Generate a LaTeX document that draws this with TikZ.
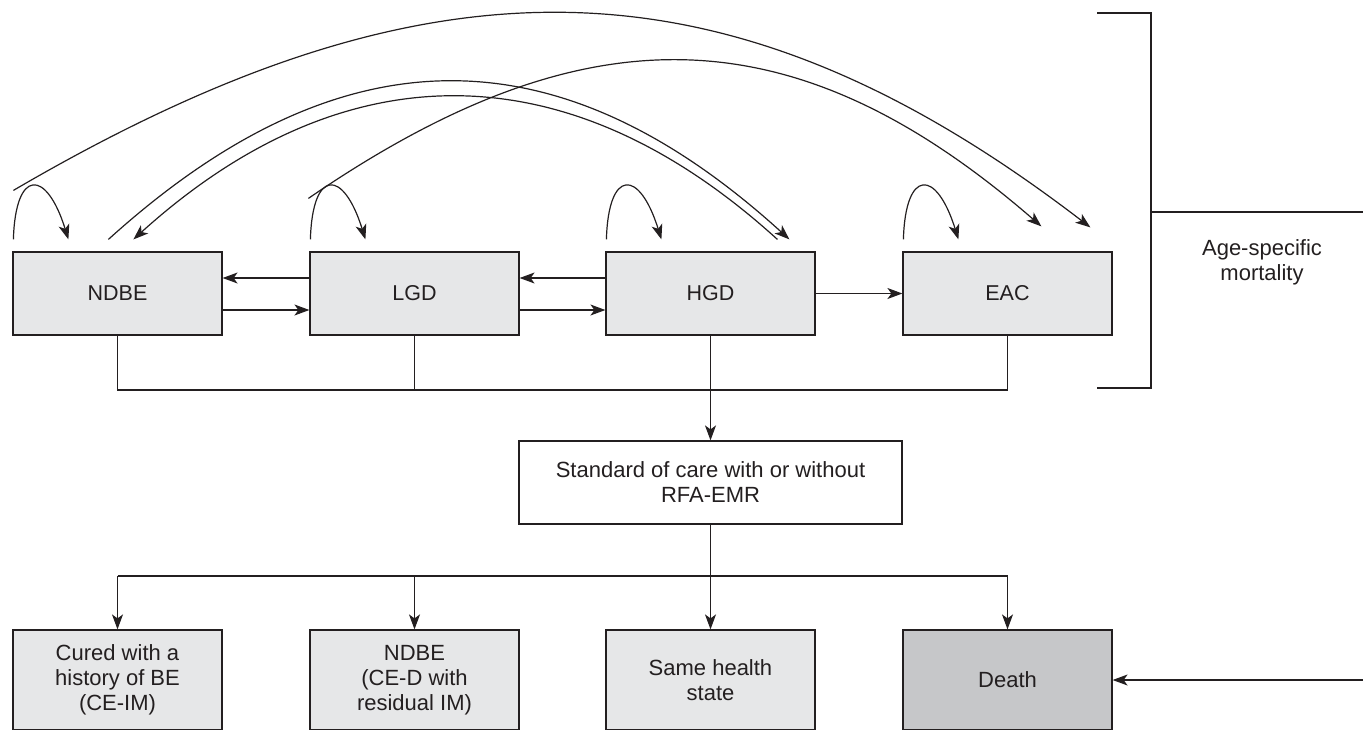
\documentclass[tikz,border=0pt]{standalone}
\usepackage{fontspec}
\setmainfont{Liberation Sans}
\usetikzlibrary{arrows.meta,calc}
\definecolor{ink}{HTML}{231F20}
\definecolor{boxfill}{HTML}{E6E7E8}
\definecolor{deathfill}{HTML}{C6C7C9}
\begin{document}
\begin{tikzpicture}[x=1pt,y=-1pt,
  conn/.style={draw=ink, line width=1.2pt},
  arr/.style={conn, -{Stealth[length=15pt,width=11pt,inset=4pt]}},
  state/.style={draw=ink, fill=boxfill, line width=1.2pt, minimum width=209pt,
    minimum height=83pt, inner sep=0pt, text=ink, align=center,
    font=\fontsize{21.5}{25}\selectfont},
  carebox/.style={state, fill=white, minimum width=383pt,
    font=\fontsize{22}{25}\selectfont},
  outcome/.style={state, minimum height=100pt, font=\fontsize{22}{25}\selectfont},
  deathbox/.style={outcome, fill=deathfill},
  label/.style={text=ink, align=center, inner sep=0pt, font=\fontsize{22}{25}\selectfont}]
\useasboundingbox (0,0) rectangle (1363,729);

% health states
\node[state] (ndbe) at (117.5,293.5) {NDBE};
\node[state] (lgd)  at (414.5,293.5) {LGD};
\node[state] (hgd)  at (710.5,293.5) {HGD};
\node[state] (eac)  at (1007.5,293.5) {EAC};

% transitions between neighbours
\draw[arr] (lgd.west |- 0,278) -- (ndbe.east |- 0,278);
\draw[arr] (ndbe.east |- 0,310) -- (lgd.west |- 0,310);
\draw[arr] (hgd.west |- 0,278) -- (lgd.east |- 0,278);
\draw[arr] (lgd.east |- 0,310) -- (hgd.west |- 0,310);
\draw[arr] (hgd.east) -- (eac.west);

% self loops
\foreach \n in {ndbe,lgd,hgd,eac}{
  \draw[arr] ($(\n.north west)+(1,-12)$) .. controls ($(\n.north west)+(3,-83)$)
    and ($(\n.north west)+(34,-83)$) .. ($(\n.north west)+(56,-12)$);
}

% long arcs
\draw[arr] ($(ndbe.north west)+(1,-61)$) .. controls (428,-52) and (726,-52) .. ($(eac.north west)+(188,-24)$);
\draw[arr] ($(ndbe.north west)+(96,-12)$) .. controls (341,29) and (558,29) .. ($(hgd.north west)+(184,-12)$);
\draw[arr] ($(hgd.north west)+(172,-12)$) .. controls (568,49) and (344,49) .. ($(ndbe.north west)+(121,-12)$);
\draw[arr] ($(lgd.north west)+(-1,-53)$) .. controls (583,10) and (792,10) .. ($(eac.north west)+(139,-25)$);

% treatment
\node[carebox] (soc) at (710.5,482.5) {Standard of care with or without\\RFA-EMR};
\coordinate (bus1) at (0,390);
\draw[conn] (ndbe.south) |- (eac.south |- bus1) -- (eac.south);
\draw[conn] (lgd.south) -- (lgd.south |- bus1);
\draw[arr] (hgd.south) -- (soc.north);

% outcomes
\node[outcome] (cured) at (117.5,680) {Cured with a\\history of BE\\(CE-IM)};
\node[outcome] (resid) at (414.5,680) {NDBE\\(CE-D with\\residual IM)};
\node[outcome] (same)  at (710.5,680) {Same health\\state};
\node[deathbox] (death) at (1007.5,680) {Death};

\coordinate (bus2) at (0,576);
\draw[conn] (soc.south) -- (soc.south |- bus2);
\draw[conn] (cured.north |- bus2) -- (death.north |- bus2);
\foreach \n in {cured,resid,same,death}{
  \draw[arr] (\n.north |- bus2) -- (\n.north);
}

% age-specific mortality bracket
\draw[conn] (1097,13) -- (1151,13) -- (1151,388) -- (1097,388);
\coordinate (mortend) at (1363,212);
\draw[conn] (1151,212) -- (mortend);
\node[label] (age) at (1262,262) {Age-specific\\mortality};
\coordinate (deathin) at (1363,680);
\draw[arr] (deathin) -- (death.east);
\end{tikzpicture}
\end{document}
